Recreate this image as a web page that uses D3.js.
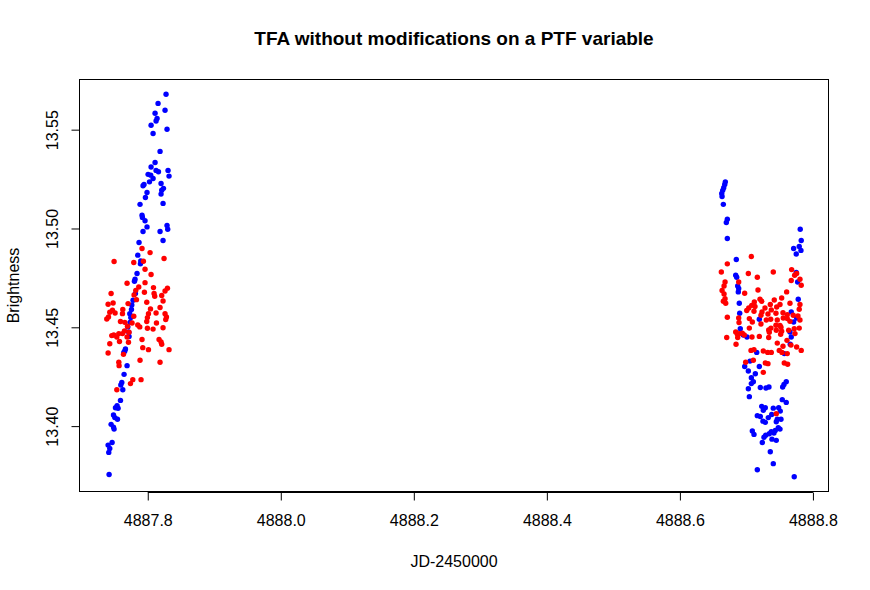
<!DOCTYPE html>
<html>
<head>
<meta charset="utf-8">
<script src="https://cdn.jsdelivr.net/npm/d3@7"></script>
<style>
  body { margin: 0; background: #fff; }
  text { font-family: "Liberation Sans", Arial, sans-serif; fill: #000; }
</style>
</head>
<body>
<script>
// light curve values
const blueJD = [
  4887.8275, 4887.8155, 4887.8260, 4887.8110, 4887.8140, 4887.8125, 4887.8050, 4887.8290, 4887.8080, 4887.8185,
  4887.8110, 4887.8050, 4887.8125, 4887.8161, 4887.8305, 4887.8005, 4887.8045, 4887.8080, 4887.8320, 4887.8026,
  4887.7944, 4887.7929, 4887.8200, 4887.8236, 4887.8210, 4887.7989, 4887.8200, 4887.7965, 4887.7884, 4887.8230,
  4887.7914, 4887.7920, 4887.7959, 4887.8290, 4887.7989, 4887.8300, 4887.7929, 4887.8185, 4887.8230, 4887.7869,
  4887.7850, 4887.7895, 4887.7890, 4887.7839, 4887.7809, 4887.7800, 4887.7815, 4887.7779, 4887.7760, 4887.7755,
  4887.7730, 4887.7745, 4887.7734, 4887.7700, 4887.7715, 4887.7719, 4887.7665, 4887.7655, 4887.7640, 4887.7689,
  4887.7644, 4887.7610, 4887.7595, 4887.7625, 4887.7590, 4887.7539, 4887.7515, 4887.7554, 4887.7485, 4887.7505,
  4887.7545, 4887.7449, 4887.7485, 4887.7494, 4887.7464, 4887.7404, 4887.7429, 4887.7414, 4887.7419,
  4888.6683, 4888.6674, 4888.6659, 4888.6644, 4888.6629, 4888.6634, 4888.6653, 4888.6713, 4888.6698, 4888.6713,
  4888.7809, 4888.7824, 4888.7710, 4888.7794, 4888.7820, 4888.7749, 4888.6848, 4888.6839, 4888.6854, 4888.6869,
  4888.6884, 4888.6878, 4888.7749, 4888.7770, 4888.7779, 4888.6893, 4888.6899, 4888.7194, 4888.7674, 4888.7710,
  4888.7755, 4888.6908, 4888.7655, 4888.6953, 4888.7009, 4888.7674, 4888.7569, 4888.7659, 4888.7155, 4888.7054,
  4888.6974, 4888.7194, 4888.7029, 4888.7134, 4888.7074, 4888.7104, 4888.7074, 4888.7599, 4888.7565, 4888.7545,
  4888.7029, 4888.7209, 4888.7294, 4888.7339, 4888.7044, 4888.7539, 4888.7599, 4888.7230, 4888.7284, 4888.7254,
  4888.7404, 4888.7485, 4888.7509, 4888.7164, 4888.7209, 4888.7329, 4888.7380, 4888.7249, 4888.7284, 4888.7464,
  4888.7520, 4888.7449, 4888.7479, 4888.7505, 4888.7434, 4888.7374, 4888.7344, 4888.7414, 4888.7089, 4888.7114,
  4888.7290, 4888.7264, 4888.7384, 4888.7449, 4888.7239, 4888.7359, 4888.7404, 4888.7164, 4888.7719
];
const blueMag = [
  13.5679, 13.5633, 13.5598, 13.5583, 13.5557, 13.5544, 13.5522, 13.5502, 13.5481, 13.5390,
  13.5334, 13.5311, 13.5294, 13.5287, 13.5294, 13.5274, 13.5270, 13.5253, 13.5265, 13.5236,
  13.5223, 13.5216, 13.5228, 13.5203, 13.5194, 13.5182, 13.5174, 13.5157, 13.5122, 13.5127,
  13.5067, 13.5056, 13.5039, 13.5015, 13.5008, 13.4996, 13.4985, 13.4985, 13.4939, 13.4929,
  13.4865, 13.4836, 13.4821, 13.4772, 13.4743, 13.4733, 13.4671, 13.4637, 13.4613, 13.4590,
  13.4569, 13.4549, 13.4525, 13.4502, 13.4475, 13.4454, 13.4390, 13.4380, 13.4373, 13.4306,
  13.4262, 13.4221, 13.4208, 13.4184, 13.4130, 13.4103, 13.4093, 13.4090, 13.4056, 13.4043,
  13.4035, 13.4009, 13.3995, 13.3985, 13.3917, 13.3904, 13.3887, 13.3867, 13.3755,
  13.5236, 13.5223, 13.5206, 13.5193, 13.5177, 13.5162, 13.5122, 13.5047, 13.5030, 13.4949,
  13.4996, 13.4939, 13.4899, 13.4909, 13.4889, 13.4871, 13.4843, 13.4763, 13.4753, 13.4709,
  13.4696, 13.4679, 13.4777, 13.4729, 13.4642, 13.4622, 13.4571, 13.4541, 13.4578, 13.4527,
  13.4547, 13.4493, 13.4476, 13.4461, 13.4451, 13.4451, 13.4367, 13.4414, 13.4373, 13.4329,
  13.4302, 13.4302, 13.4279, 13.4265, 13.4245, 13.4225, 13.4215, 13.4225, 13.4211, 13.4198,
  13.4189, 13.4195, 13.4193, 13.4198, 13.4149, 13.4134, 13.4120, 13.4100, 13.4093, 13.4080,
  13.4091, 13.4093, 13.4076, 13.4053, 13.4049, 13.4043, 13.4059, 13.4025, 13.4019, 13.4035,
  13.4035, 13.4022, 13.3992, 13.3985, 13.3978, 13.3972, 13.3961, 13.3965, 13.3975, 13.3958,
  13.3954, 13.3944, 13.3934, 13.3928, 13.3917, 13.3870, 13.3810, 13.3779, 13.3744
];

const redJD = [
  4887.7914, 4887.8035, 4887.7494, 4887.7790, 4887.7935, 4887.8245, 4887.7959, 4887.8050, 4887.7689, 4887.7959,
  4887.7865, 4887.8086, 4887.8296, 4887.8260, 4887.7820, 4887.7950, 4887.8095, 4887.8210, 4887.7449, 4887.8105,
  4887.7794, 4887.7830, 4887.7985, 4887.8230, 4887.7404, 4887.7479, 4887.7704, 4887.8185, 4887.8041, 4887.7625,
  4887.7470, 4887.7429, 4887.7509, 4887.7620, 4887.8011, 4887.8125, 4887.8260, 4887.7410, 4887.7384, 4887.7790,
  4887.7995, 4887.8281, 4887.8270, 4887.7590, 4887.7655, 4887.7764, 4887.8131, 4887.7985, 4887.7850, 4887.7695,
  4887.7880, 4887.7995, 4887.8080, 4887.8230, 4887.7650, 4887.7719, 4887.7565, 4887.7489, 4887.7620, 4887.7459,
  4887.7535, 4887.7689, 4887.7429, 4887.7575, 4887.7710, 4887.7914, 4887.8170, 4887.8200, 4887.8210, 4887.7925,
  4887.8011, 4887.8320, 4887.7404, 4887.7635, 4887.7884, 4887.8185, 4887.7565, 4887.7569, 4887.7775, 4887.7740,
  4887.7899, 4887.7535,
  4888.7074, 4888.6713, 4888.6623, 4888.7029, 4888.7164, 4888.7404, 4888.7680, 4888.7755, 4888.7725, 4888.7805,
  4888.7674, 4888.6679, 4888.6884, 4888.6664, 4888.7824, 4888.6634, 4888.6664, 4888.6974, 4888.7174, 4888.7605,
  4888.6679, 4888.6653, 4888.6689, 4888.7204, 4888.7530, 4888.7119, 4888.7230, 4888.7419, 4888.7655, 4888.7080,
  4888.7359, 4888.7505, 4888.7805, 4888.7035, 4888.7129, 4888.7279, 4888.7455, 4888.7005, 4888.7114, 4888.7374,
  4888.7794, 4888.6713, 4888.6884, 4888.7044, 4888.7234, 4888.7219, 4888.7324, 4888.7444, 4888.7550, 4888.7614,
  4888.7704, 4888.7775, 4888.7805, 4888.7365, 4888.7464, 4888.7614, 4888.7554, 4888.7089, 4888.7299, 4888.6889,
  4888.7444, 4888.7219, 4888.7655, 4888.7520, 4888.7044, 4888.7369, 4888.6839, 4888.7335, 4888.7530, 4888.7719,
  4888.7794, 4888.6863, 4888.6938, 4888.7505, 4888.7344, 4888.7449, 4888.7635, 4888.6893, 4888.6968, 4888.6704,
  4888.6869, 4888.7084, 4888.7194, 4888.7335, 4888.7515, 4888.7610, 4888.7730, 4888.6844, 4888.7464, 4888.7550,
  4888.7670, 4888.7755, 4888.7824, 4888.7069, 4888.7114, 4888.7254, 4888.7320, 4888.7374, 4888.7494, 4888.7614,
  4888.7535, 4888.7104, 4888.6989, 4888.7284, 4888.7324, 4888.7569, 4888.7620, 4888.7254, 4888.7449
];
const redMag = [
  13.4899, 13.4878, 13.4833, 13.4828, 13.4834, 13.4848, 13.4794, 13.4767, 13.4723, 13.4726,
  13.4704, 13.4701, 13.4698, 13.4684, 13.4687, 13.4677, 13.4671, 13.4661, 13.4671, 13.4657,
  13.4664, 13.4640, 13.4627, 13.4633, 13.4617, 13.4623, 13.4620, 13.4600, 13.4593, 13.4590,
  13.4586, 13.4576, 13.4572, 13.4569, 13.4569, 13.4572, 13.4569, 13.4552, 13.4542, 13.4556,
  13.4549, 13.4552, 13.4539, 13.4529, 13.4525, 13.4522, 13.4522, 13.4529, 13.4512, 13.4505,
  13.4502, 13.4495, 13.4491, 13.4498, 13.4481, 13.4475, 13.4468, 13.4461, 13.4468, 13.4458,
  13.4451, 13.4451, 13.4417, 13.4428, 13.4424, 13.4438, 13.4438, 13.4426, 13.4414, 13.4397,
  13.4387, 13.4387, 13.4370, 13.4363, 13.4333, 13.4323, 13.4323, 13.4306, 13.4235, 13.4215,
  13.4235, 13.4184,
  13.4858, 13.4821, 13.4780, 13.4772, 13.4753, 13.4780, 13.4792, 13.4772, 13.4763, 13.4743,
  13.4737, 13.4729, 13.4729, 13.4709, 13.4713, 13.4686, 13.4669, 13.4672, 13.4689, 13.4679,
  13.4645, 13.4632, 13.4622, 13.4642, 13.4648, 13.4628, 13.4632, 13.4638, 13.4622, 13.4611,
  13.4615, 13.4615, 13.4615, 13.4598, 13.4605, 13.4598, 13.4603, 13.4585, 13.4581, 13.4588,
  13.4591, 13.4551, 13.4547, 13.4544, 13.4578, 13.4561, 13.4567, 13.4571, 13.4574, 13.4564,
  13.4561, 13.4557, 13.4537, 13.4541, 13.4537, 13.4544, 13.4547, 13.4527, 13.4537, 13.4524,
  13.4510, 13.4517, 13.4530, 13.4500, 13.4496, 13.4496, 13.4476, 13.4486, 13.4480, 13.4493,
  13.4496, 13.4466, 13.4470, 13.4509, 13.4475, 13.4485, 13.4485, 13.4468, 13.4461, 13.4448,
  13.4448, 13.4451, 13.4454, 13.4448, 13.4465, 13.4434, 13.4468, 13.4414, 13.4420, 13.4404,
  13.4410, 13.4400, 13.4383, 13.4383, 13.4387, 13.4380, 13.4373, 13.4373, 13.4383, 13.4367,
  13.4373, 13.4333, 13.4323, 13.4319, 13.4316, 13.4319, 13.4313, 13.4272, 13.4063
];

const xTicks = [4887.8, 4888.0, 4888.2, 4888.4, 4888.6, 4888.8];
const yTicks = [13.40, 13.45, 13.50, 13.55];

const titleText = "TFA without modifications on a PTF variable";
const xLabel = "JD-2450000";
const yLabel = "Brightness";

const width = 870, height = 590;
const margin = { top: 79, right: 41, bottom: 98, left: 79 };

// R style axis range: data extent widened by 4 percent
function rRange(values) {
  const [lo, hi] = d3.extent(values);
  const pad = (hi - lo) * 0.04;
  return [lo - pad, hi + pad];
}

const x = d3.scaleLinear()
  .domain(rRange(blueJD.concat(redJD)))
  .range([margin.left, width - margin.right]);
const y = d3.scaleLinear()
  .domain(rRange(blueMag.concat(redMag)))
  .range([height - margin.bottom, margin.top]);

const svg = d3.select("body").append("svg")
  .attr("width", width)
  .attr("height", height);

svg.append("rect")
  .attr("width", width).attr("height", height)
  .attr("fill", "#fff");

// points
function drawSeries(xs, ys, colour) {
  svg.append("g")
    .selectAll("circle")
    .data(xs.map((d, i) => [d, ys[i]]))
    .join("circle")
      .attr("cx", d => x(d[0]))
      .attr("cy", d => y(d[1]))
      .attr("r", 2.7)
      .attr("fill", colour);
}
drawSeries(blueJD, blueMag, "#0000ff");
drawSeries(redJD, redMag, "#ff0000");

// box
svg.append("rect")
  .attr("x", margin.left + 0.5)
  .attr("y", margin.top + 0.5)
  .attr("width", width - margin.left - margin.right - 1)
  .attr("height", height - margin.top - margin.bottom - 1)
  .attr("fill", "none")
  .attr("stroke", "#000")
  .attr("stroke-width", 1);

// axes
const xAxis = svg.append("g")
  .attr("transform", "translate(0," + (height - margin.bottom + 0.5) + ")")
  .call(d3.axisBottom(x).tickValues(xTicks).tickFormat(d3.format(".1f"))
    .tickSize(8).tickPadding(14));
xAxis.select(".domain")
  .attr("d", "M" + x(xTicks[0]) + ",0H" + x(xTicks[xTicks.length - 1]));

const yAxis = svg.append("g")
  .attr("transform", "translate(" + (margin.left + 0.5) + ",0)")
  .call(d3.axisLeft(y).tickValues(yTicks).tickFormat(d3.format(".2f"))
    .tickSize(8).tickPadding(0));
yAxis.select(".domain")
  .attr("d", "M0," + y(yTicks[0]) + "V" + y(yTicks[yTicks.length - 1]));

[xAxis, yAxis].forEach(g => {
  g.selectAll("path, line").attr("stroke", "#000");
  g.selectAll("text")
    .attr("font-family", "'Liberation Sans', Arial, sans-serif")
    .attr("font-size", 16)
    .attr("fill", "#000");
});
yAxis.selectAll(".tick text")
  .attr("x", null).attr("dy", null)
  .attr("text-anchor", "middle")
  .attr("transform", "translate(-22,0) rotate(-90)");

// titles
svg.append("text")
  .attr("x", (margin.left + width - margin.right) / 2)
  .attr("y", 45)
  .attr("text-anchor", "middle")
  .attr("font-size", 19)
  .attr("font-weight", "bold")
  .text(titleText);

svg.append("text")
  .attr("x", (margin.left + width - margin.right) / 2)
  .attr("y", 567)
  .attr("text-anchor", "middle")
  .attr("font-size", 16)
  .text(xLabel);

svg.append("text")
  .attr("transform", "translate(19," + (margin.top + height - margin.bottom) / 2 + ") rotate(-90)")
  .attr("text-anchor", "middle")
  .attr("font-size", 16)
  .text(yLabel);
</script>
</body>
</html>
